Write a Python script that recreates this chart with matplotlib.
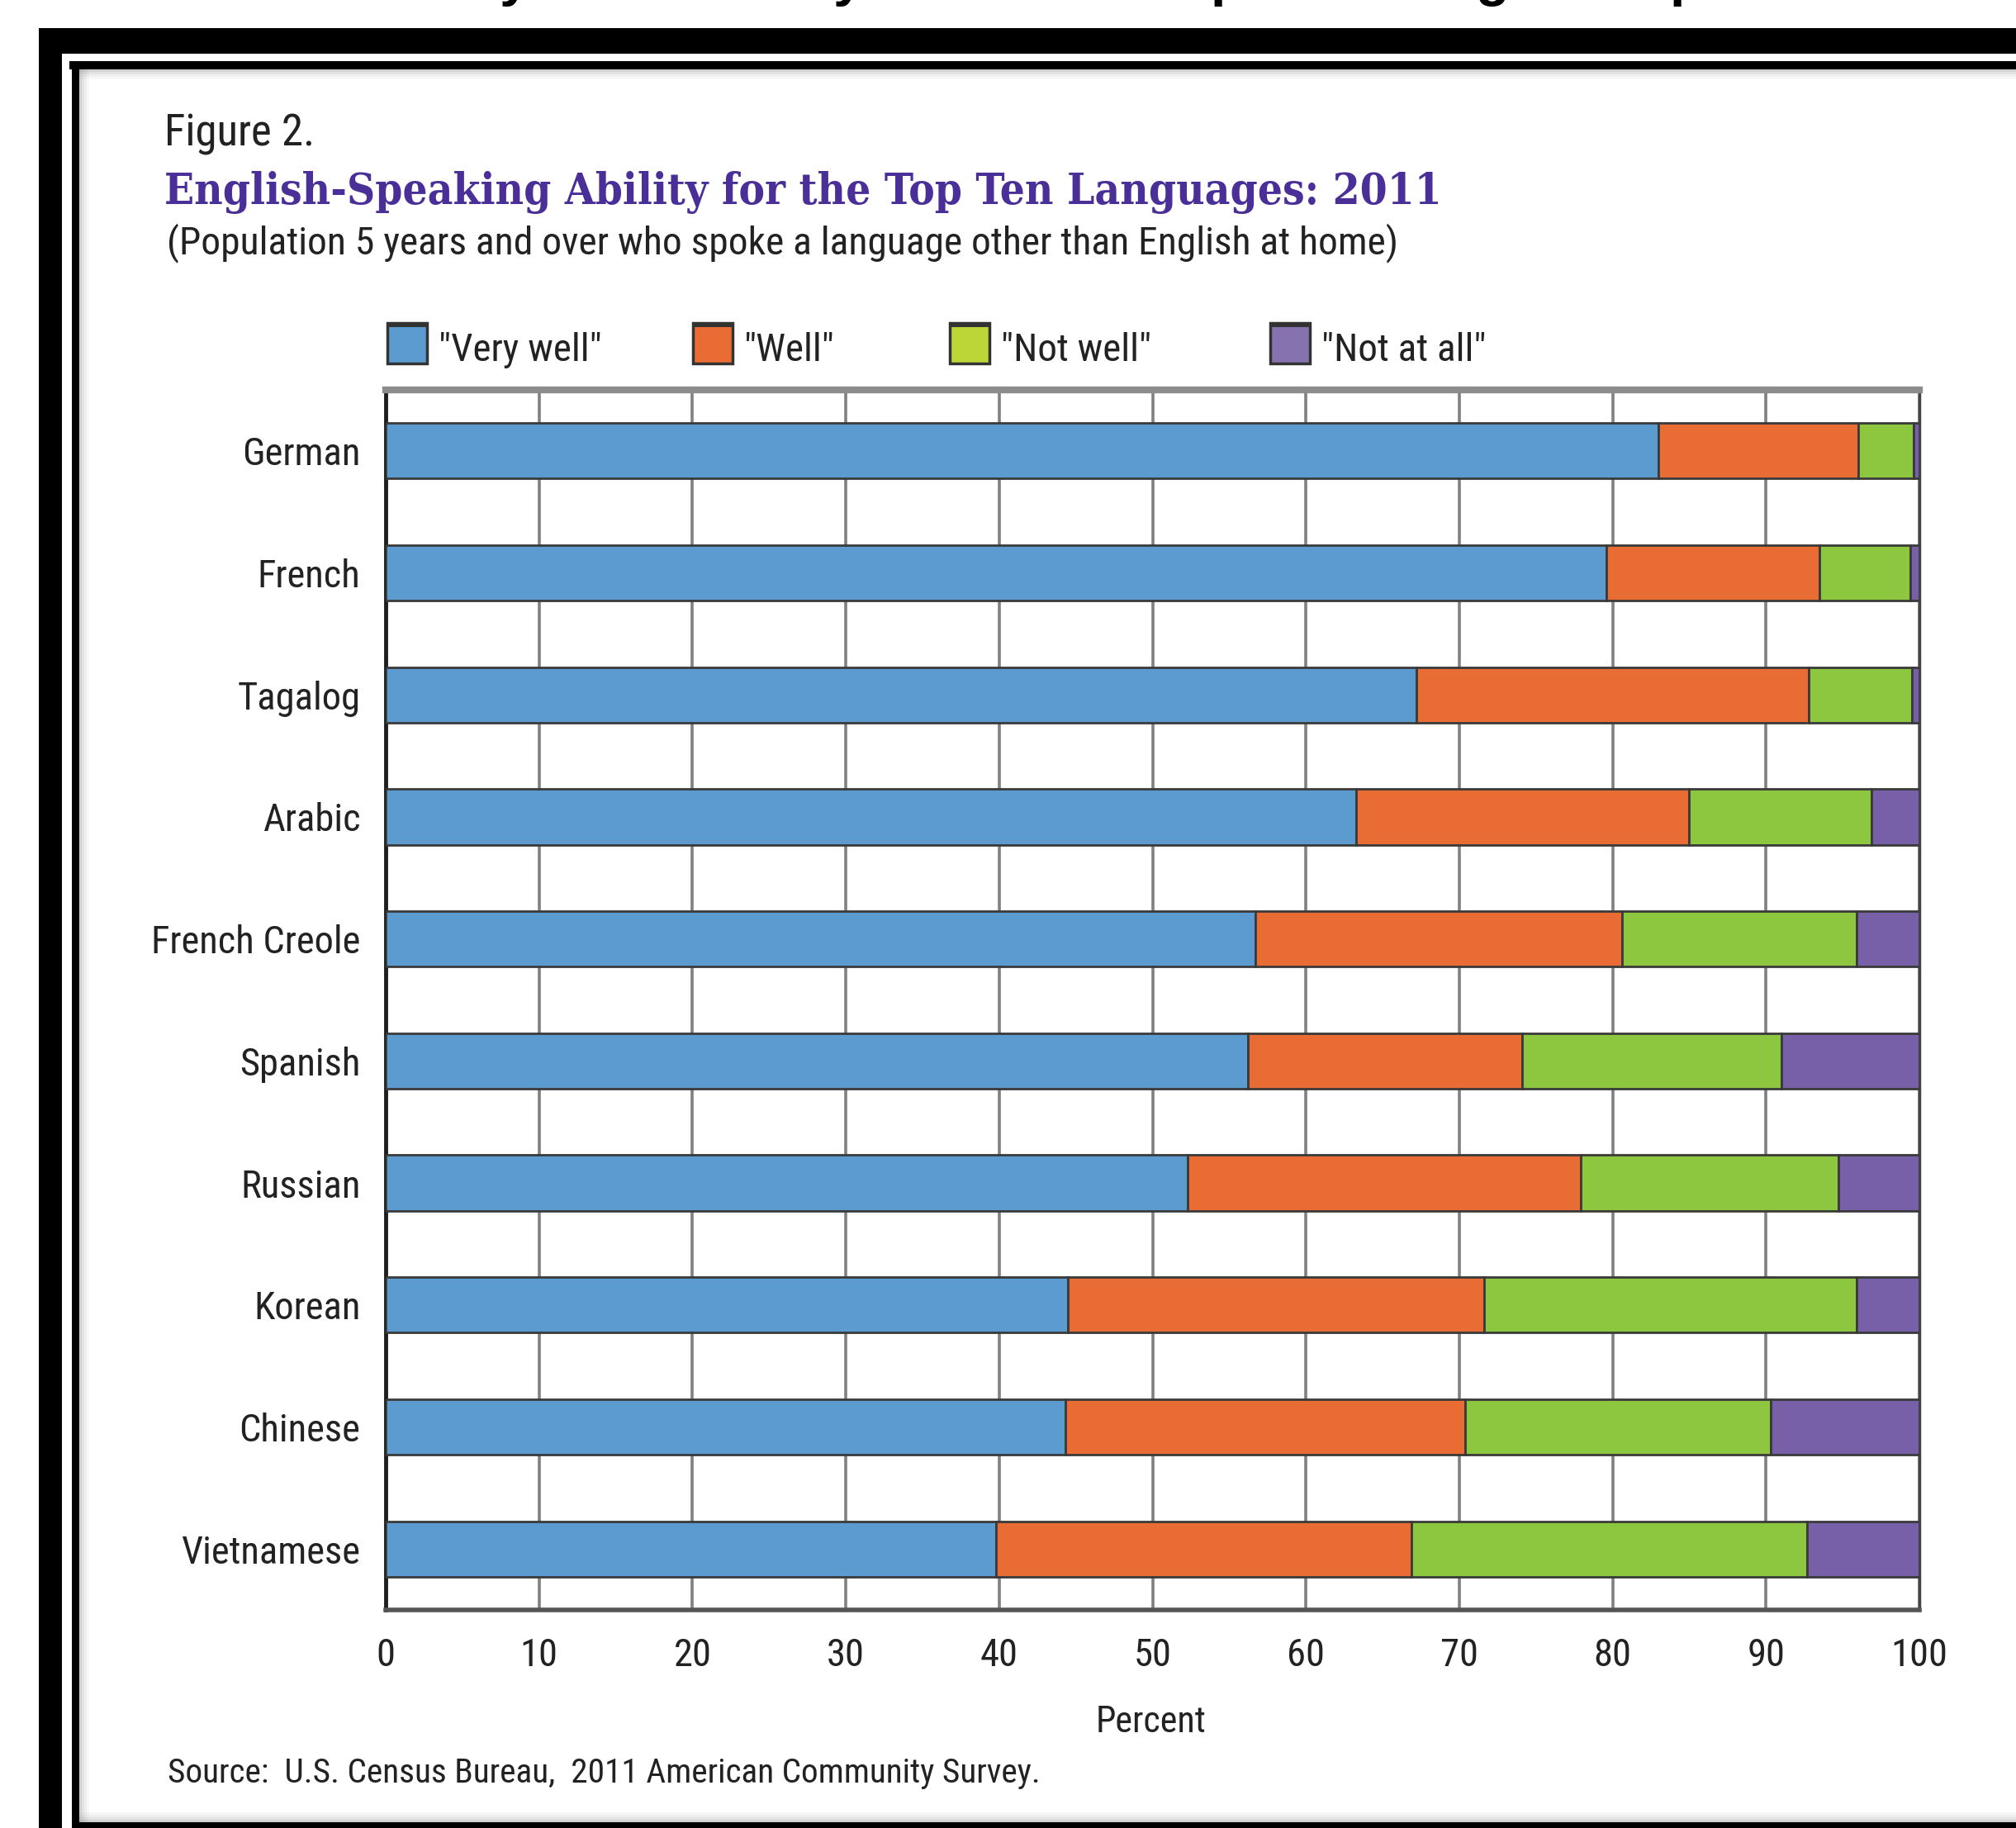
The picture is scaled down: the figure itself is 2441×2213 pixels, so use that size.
import os
import matplotlib
matplotlib.use("Agg")
import matplotlib.pyplot as plt
from matplotlib import font_manager as fm
from matplotlib.patches import Rectangle

# data (percent of speakers)
languages = ["German", "French", "Tagalog", "Arabic", "French Creole",
             "Spanish", "Russian", "Korean", "Chinese", "Vietnamese"]
very_well = [83.0, 79.6, 67.2, 63.3, 56.7, 56.2, 52.3, 44.5, 44.3, 39.8]
well = [13.0, 13.9, 25.6, 21.7, 23.9, 17.9, 25.6, 27.1, 26.1, 27.1]
not_well = [3.6, 5.9, 6.7, 11.9, 15.3, 16.9, 16.8, 24.3, 19.9, 25.8]
not_at_all = [0.4, 0.6, 0.5, 3.1, 4.1, 9.0, 5.3, 4.1, 9.7, 7.3]
series_names = ['"Very well"', '"Well"', '"Not well"', '"Not at all"']
x_ticks = [0, 10, 20, 30, 40, 50, 60, 70, 80, 90, 100]

bar_colors = ["#5b9bd0", "#e86c34", "#8dc63f", "#7760a8"]
legend_colors = ["#5b9bd0", "#e86c34", "#bcd637", "#8772b0"]
W, H = 2441, 2213


def find_font(keys):
    # first installed font file whose name starts with one of the keys
    names = [f.fname for f in fm.fontManager.ttflist]
    for key in keys:
        for f in names:
            if os.path.basename(f).lower().startswith(key):
                return f
    return None


narrow_file = find_font(["liberationsansnarrow-regular", "robotocondensed-regular",
                         "dejavusanscondensed.", "notosans-condensed.",
                         "opensans_condensed-regular", "opensans-condensed"])
serif_file = find_font(["dejavuserifcondensed-bold.", "liberationserif-bold."])


def narrow(size):
    if narrow_file:
        return fm.FontProperties(fname=narrow_file, size=size)
    return fm.FontProperties(family="Liberation Sans", size=size)


def serif(size):
    if serif_file:
        return fm.FontProperties(fname=serif_file, size=size)
    return fm.FontProperties(family="Liberation Serif", weight="bold", size=size)


fig = plt.figure(figsize=(W / 100, H / 100), dpi=100)
fig.patch.set_facecolor("white")
renderer = fig.canvas.get_renderer()


def fit(text, target_px, font):
    # font size that gives the text the width it has in the reference
    t = fig.text(0, 0, text, fontproperties=font(30))
    w = t.get_window_extent(renderer).width
    t.remove()
    return 30 * target_px / w


# pixel-space layer for the frame, titles and legend
bg = fig.add_axes([0, 0, 1, 1])
bg.set_xlim(0, W)
bg.set_ylim(H, 0)
bg.axis("off")

# black double frame of the page
bg.add_patch(Rectangle((47, 34), 28, H - 34, color="black", lw=0))
bg.add_patch(Rectangle((47, 34), W - 47, 31, color="black", lw=0))
bg.add_patch(Rectangle((84, 74), W - 84, 10, color="black", lw=0))
bg.add_patch(Rectangle((87, 74), 9, H - 74, color="black", lw=0))
bg.add_patch(Rectangle((87, H - 7), W - 87, 7, color="black", lw=0))
for i, a in enumerate([0.35, 0.22, 0.12, 0.05]):
    bg.add_patch(Rectangle((96, 84 + i * 3), W - 96, 3, color="gray", alpha=a, lw=0))
    bg.add_patch(Rectangle((96 + i * 3, 84), 3, H - 91, color="gray", alpha=a, lw=0))
    bg.add_patch(Rectangle((96, H - 10 - i * 3), W - 96, 3, color="gray", alpha=a, lw=0))

# descenders of the page heading that is cut off above the frame
for x, ch in [(604, "y"), (1008, "y"), (1466, "p"), (1786, "g"), (2022, "p")]:
    fig.text(x / W, (H + 6) / H, ch, fontsize=48, fontweight="bold", color="black",
             family=["Liberation Sans", "DejaVu Sans"], va="baseline")

ink = "#222222"
bg.text(199, 177, "Figure 2.", fontproperties=narrow(fit("Figure 2.", 182, narrow)),
        color=ink, va="baseline")
title = "English-Speaking Ability for the Top Ten Languages: 2011"
bg.text(199, 247, title, fontproperties=serif(fit(title, 1542, serif)),
        color="#4a2f98", va="baseline")
subtitle = "(Population 5 years and over who spoke a language other than English at home)"
bg.text(202, 307, subtitle, fontproperties=narrow(fit(subtitle, 1490, narrow)),
        color=ink, va="baseline")

# legend
legend_size = fit(series_names[0], 198, narrow)
legend_x = [469, 839, 1150, 1538]
for x, name, c in zip(legend_x, series_names, legend_colors):
    bg.add_patch(Rectangle((x, 391), 48, 49, facecolor=c, edgecolor="#333333", lw=2.5))
    bg.add_patch(Rectangle((x, 391), 48, 5, facecolor="#333333", lw=0))
    bg.text(x + 62, 437, name, fontproperties=narrow(legend_size), color=ink, va="baseline")

bg.text(1393, 2097, "Percent", fontproperties=narrow(fit("Percent", 134, narrow)),
        color=ink, ha="center", va="baseline")
source = "Source:  U.S. Census Bureau,  2011 American Community Survey."
bg.text(203, 2158, source, fontproperties=narrow(fit(source, 1055, narrow)),
        color=ink, va="baseline")

# main chart
label_size = fit("French Creole", 254, narrow)
ax = fig.add_axes([467 / W, 1 - 1949 / H, (2324 - 467) / W, (1949 - 472) / H])
ax.set_facecolor("white")
ypos = list(range(len(languages)))
left = [0.0] * len(languages)
for vals, c in zip([very_well, well, not_well, not_at_all], bar_colors):
    ax.barh(ypos, vals, left=left, height=0.455, color=c,
            edgecolor="#3a3a3a", linewidth=2, zorder=3)
    left = [l + v for l, v in zip(left, vals)]

ax.set_xlim(0, 100)
ax.set_ylim(len(languages) - 0.5, -0.5)
ax.set_xticks(x_ticks)
ax.set_xticklabels([str(t) for t in x_ticks], fontproperties=narrow(label_size), color=ink)
ax.set_yticks(ypos)
ax.set_yticklabels(languages, fontproperties=narrow(label_size), color=ink)
ax.tick_params(axis="x", length=0, pad=24)
ax.tick_params(axis="y", length=0, pad=22)
ax.grid(True, axis="x", color="#808080", linewidth=2.6, zorder=0)
ax.set_axisbelow(True)

ax.spines["top"].set_color("#8c8c8c")
ax.spines["top"].set_linewidth(6)
ax.spines["bottom"].set_color("#555555")
ax.spines["bottom"].set_linewidth(4)
ax.spines["left"].set_color("#1e1e1e")
ax.spines["left"].set_linewidth(3.5)
ax.spines["right"].set_color("#444444")
ax.spines["right"].set_linewidth(2.5)

fig.savefig("out.png", dpi=100, facecolor=fig.get_facecolor())
plt.close(fig)
